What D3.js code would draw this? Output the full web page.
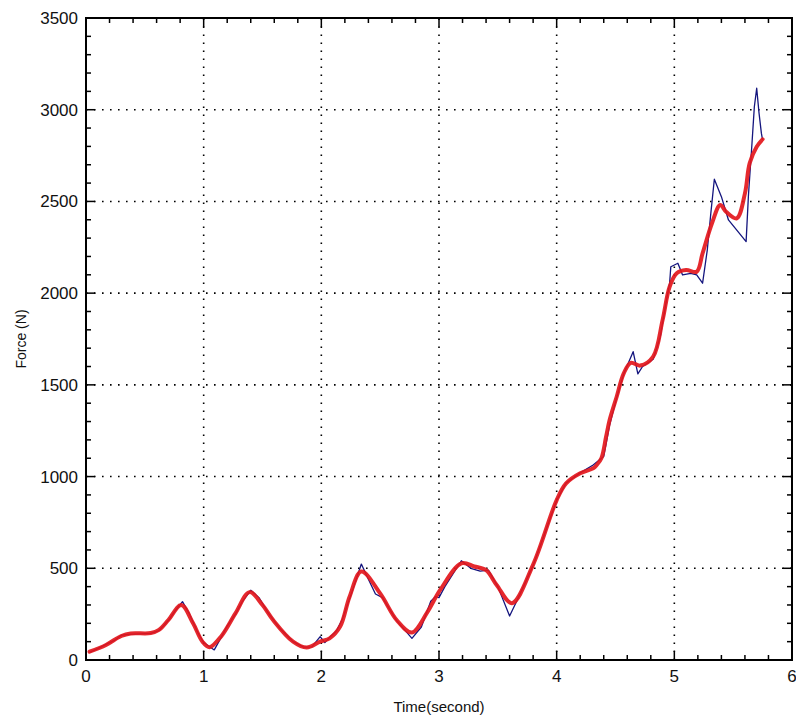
<!DOCTYPE html>
<html>
<head>
<meta charset="utf-8">
<script src="https://cdn.jsdelivr.net/npm/d3@7"></script>
<style>
  html, body { margin: 0; padding: 0; background: #fff; }
  svg { display: block; }
  text { font-family: "Liberation Sans", Arial, sans-serif; fill: #111; }
</style>
</head>
<body>
<svg id="chart" width="796" height="721"></svg>
<script>
// Measured force: raw samples (time in s, force in N)
const rawTime = [0.03,0.10,0.17,0.25,0.30,0.36,0.55,0.62,0.70,0.76,0.82,0.88,0.95,1.00,1.09,1.15,1.20,1.27,1.33,1.40,1.47,1.55,1.65,1.76,1.85,1.92,1.99,2.03,2.08,2.13,2.18,2.26,2.34,2.40,2.46,2.52,2.64,2.77,2.85,2.93,2.97,3.00,3.05,3.19,3.27,3.35,3.42,3.50,3.60,3.66,3.80,4.00,4.08,4.20,4.31,4.40,4.45,4.51,4.57,4.65,4.69,4.73,4.82,4.88,4.93,4.96,4.97,5.03,5.07,5.14,5.19,5.24,5.28,5.31,5.34,5.40,5.46,5.61,5.63,5.66,5.68,5.70,5.72,5.74,5.75];
const rawForce = [42,62,85,110,135,140,145,160,215,270,318,250,150,95,55,125,185,250,320,380,340,255,170,100,70,72,127,95,130,160,225,370,523,440,360,340,215,118,180,320,345,340,400,541,500,485,490,400,240,320,515,870,965,1020,1063,1110,1280,1430,1560,1681,1560,1600,1640,1760,1950,2054,2144,2163,2099,2108,2099,2054,2235,2435,2621,2526,2399,2281,2535,2817,3016,3117,2981,2871,2835];

// Smoothed force
const fitTime = [0.03,0.17,0.30,0.38,0.55,0.62,0.70,0.81,0.91,0.99,1.05,1.15,1.27,1.39,1.50,1.59,1.76,1.875,1.99,2.07,2.16,2.24,2.34,2.50,2.64,2.77,2.90,3.01,3.19,3.30,3.40,3.49,3.62,3.80,4.00,4.08,4.20,4.31,4.34,4.38,4.42,4.45,4.51,4.57,4.63,4.71,4.82,4.90,4.96,5.02,5.10,5.19,5.24,5.32,5.39,5.44,5.53,5.60,5.64,5.70,5.75];
const fitForce = [45,82,131,145,147,164,218,300,200,100,70,130,254,370,300,218,100,68,100,118,182,345,482,363,218,150,260,382,527,510,490,409,310,520,872,963,1018,1045,1063,1100,1217,1308,1435,1563,1620,1605,1654,1853,2035,2108,2126,2117,2217,2381,2481,2444,2408,2544,2708,2798,2839];

// Axis ticks
const xTicks = [0,1,2,3,4,5,6];
const yTicks = [0,500,1000,1500,2000,2500,3000,3500];
const xLabel = "Time(second)";
const yLabel = "Force (N)";

const svg = d3.select("#chart");
const m = { left: 86, right: 4, top: 18, bottom: 61 };
const W = 796, H = 721;
const x = d3.scaleLinear().domain([0, 6]).range([m.left, W - m.right]);
const y = d3.scaleLinear().domain([0, 3500]).range([H - m.bottom, m.top]);
const x0 = x(0), x1 = x(6), y0 = y(0), y1 = y(3500);

// dotted grid
const grid = svg.append("g").attr("stroke", "#000").attr("stroke-width", 1.6)
  .attr("stroke-dasharray", "1.6,6.4");
grid.selectAll(".gx").data(xTicks.slice(1, -1)).join("line")
  .attr("x1", d => x(d)).attr("x2", d => x(d)).attr("y1", y0).attr("y2", y1);
grid.selectAll(".gy").data(yTicks.slice(1, -1)).join("line")
  .attr("x1", x0).attr("x2", x1).attr("y1", d => y(d)).attr("y2", d => y(d));

// data lines
const rawLine = d3.line().x((d, i) => x(rawTime[i])).y(d => y(d));
const fitLine = d3.line().x((d, i) => x(fitTime[i])).y(d => y(d)).curve(d3.curveCatmullRom.alpha(0.5));

svg.append("path").datum(rawForce).attr("d", rawLine)
  .attr("fill", "none").attr("stroke", "#14157e").attr("stroke-width", 1.3)
  .attr("stroke-linejoin", "round");
svg.append("path").datum(fitForce).attr("d", fitLine)
  .attr("fill", "none").attr("stroke", "#e3171c").attr("stroke-width", 4)
  .attr("stroke-linejoin", "round").attr("stroke-linecap", "round").attr("opacity", 0.92);

// frame
svg.append("rect").attr("x", x0).attr("y", y1).attr("width", x1 - x0).attr("height", y0 - y1)
  .attr("fill", "none").attr("stroke", "#000").attr("stroke-width", 2);

// inward ticks on all four sides
const ticks = svg.append("g").attr("stroke", "#000").attr("stroke-width", 1.5);
const xMinor = d3.range(0, 30).map(i => i * 0.2).filter(v => v > 0);
const yMinor = d3.range(0, 35).map(i => i * 100).filter(v => v > 0);
const xMajorSet = new Set(xTicks.map(v => v.toFixed(1)));
const yMajorSet = new Set(yTicks.map(String));
xMinor.forEach(v => {
  const len = xMajorSet.has(v.toFixed(1)) ? 9 : 5;
  ticks.append("line").attr("x1", x(v)).attr("x2", x(v)).attr("y1", y0).attr("y2", y0 - len);
  ticks.append("line").attr("x1", x(v)).attr("x2", x(v)).attr("y1", y1).attr("y2", y1 + len);
});
yMinor.forEach(v => {
  const len = yMajorSet.has(String(v)) ? 9 : 5;
  ticks.append("line").attr("x1", x0).attr("x2", x0 + len).attr("y1", y(v)).attr("y2", y(v));
  ticks.append("line").attr("x1", x1).attr("x2", x1 - len).attr("y1", y(v)).attr("y2", y(v));
});

// tick labels
svg.append("g").selectAll("text").data(yTicks).join("text")
  .attr("x", x0 - 8).attr("y", d => y(d) + 6)
  .attr("text-anchor", "end").attr("font-size", 17)
  .text(d => d);
svg.append("g").selectAll("text").data(xTicks).join("text")
  .attr("x", d => x(d)).attr("y", y0 + 22)
  .attr("text-anchor", "middle").attr("font-size", 17)
  .text(d => d);

// axis titles
svg.append("text").attr("x", (x0 + x1) / 2).attr("y", 712)
  .attr("text-anchor", "middle").attr("font-size", 15).text(xLabel);
svg.append("text").attr("transform", `translate(26,${(y0 + y1) / 2}) rotate(-90)`)
  .attr("text-anchor", "middle").attr("font-size", 14).text(yLabel);
</script>
</body>
</html>
